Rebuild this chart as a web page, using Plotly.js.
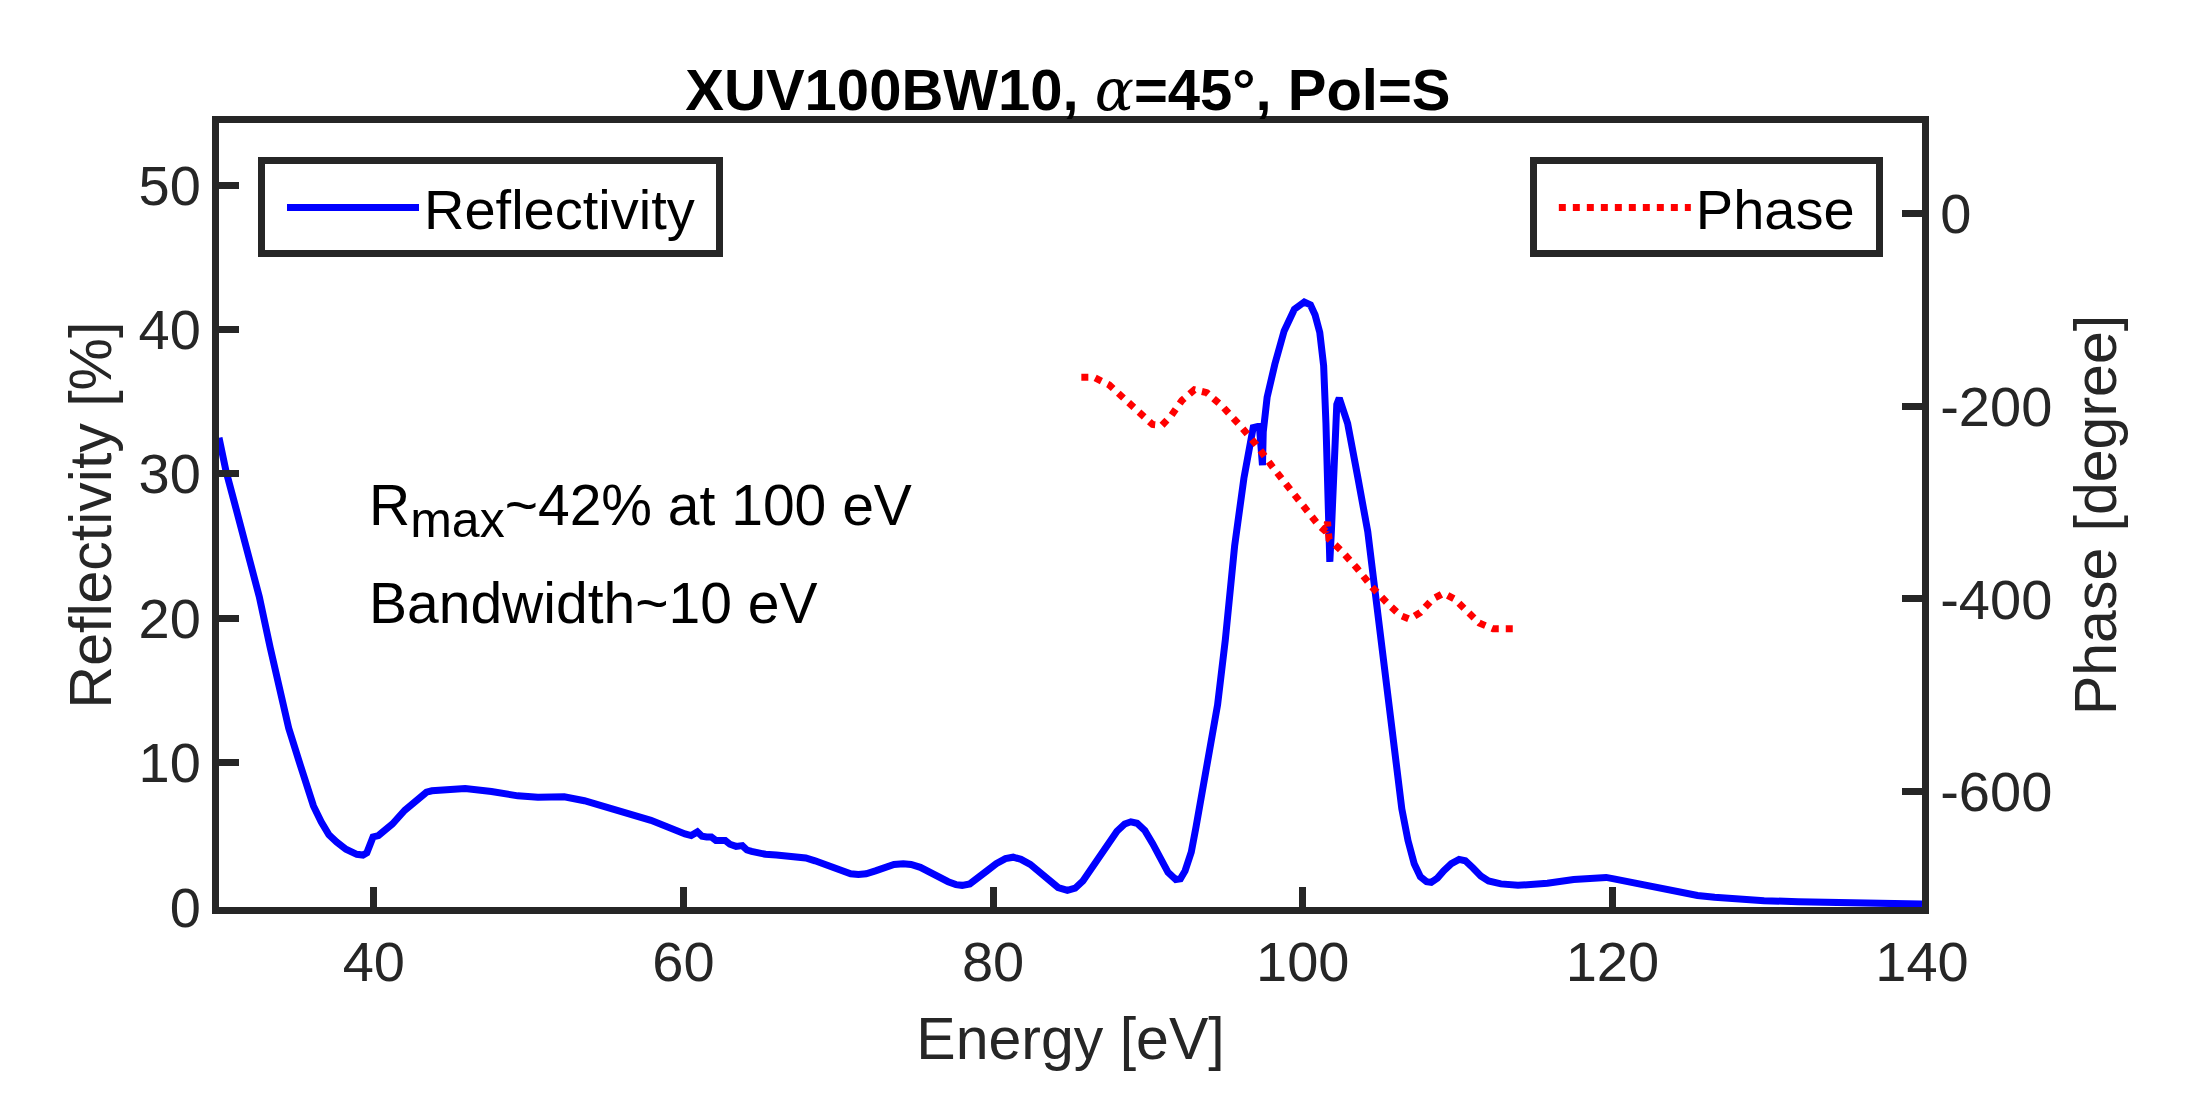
<!DOCTYPE html>
<html>
<head>
<meta charset="utf-8">
<script src="https://cdn.plot.ly/plotly-3.0.1.min.js"></script>
<style>
html, body { margin: 0; padding: 0; background: #ffffff; }
#chart { width: 2187px; height: 1094px; }
</style>
</head>
<body>
<div id="chart"></div>
<script>
// ---- data ----
const energyR = [30, 30.45, 31.0, 31.8, 32.6, 33.3, 33.9, 34.5, 35.2, 35.6, 36.1, 36.6, 37.1, 37.6, 38.2, 38.9, 39.3, 39.55, 39.75, 39.95, 40.3,
  41.2, 42.0, 42.9, 43.4, 43.75, 44.8, 45.9, 47.6, 49.3, 50.6, 52.3, 53.6, 55.8, 57.9, 60.1, 60.5, 60.9, 61.2, 61.5, 61.8, 62.1, 62.4, 62.7,
  63.0, 63.4, 63.8, 64.1, 64.4, 64.8, 65.3, 66.0, 67.0, 67.9, 68.5, 69.0, 69.6, 70.2, 70.8, 71.3, 71.8, 72.4, 73.0, 73.6, 74.2, 74.7,
  75.3, 75.9, 76.5, 77.1, 77.6, 78.0, 78.5, 79.0, 79.6, 80.2, 80.8, 81.3, 81.8, 82.4, 83.0, 83.6, 84.2, 84.8, 85.3, 85.8, 86.3, 86.8,
  87.4, 88.0, 88.5, 88.9, 89.3, 89.8, 90.3, 90.8, 91.3, 91.8, 92.1, 92.4, 92.8, 93.1, 93.5, 94.0, 94.5, 95.0, 95.6, 96.2, 96.8, 97.2,
  97.3, 97.4, 97.45, 97.7, 98.2, 98.8, 99.46, 100.1, 100.5, 100.8, 101.1, 101.35, 101.5, 101.6, 101.68, 101.75, 101.85, 101.95, 102.05,
  102.2, 102.36, 102.6, 102.9, 103.55, 104.2, 104.6, 105.0, 105.3, 105.9, 106.4, 106.8, 107.2, 107.6, 108.0, 108.3, 108.7, 109.1, 109.6,
  110.1, 110.5, 111.0, 111.5, 112.0, 112.8, 113.9, 115.0, 115.8, 117.5, 118.3, 119.05, 119.6, 120.1, 121.2, 122.3, 123.4, 124.4, 125.5,
  126.6, 128.0, 129.8, 132.0, 134.1, 137.0, 140.0];
const reflectivity = [32.5, 30.2, 28.0, 24.6, 21.5, 18.0, 15.0, 12.4, 10.0, 8.8, 7.0, 5.9, 5.0, 4.5, 4.0, 3.65, 3.6, 3.75, 4.3, 4.85, 4.95,
  5.75, 6.7, 7.6, 7.95, 8.05, 8.15, 8.2, 8.0, 7.7, 7.6, 7.63, 7.36, 6.67, 6.0, 5.06, 4.95, 5.2, 4.9, 4.85, 4.85, 4.6, 4.55, 4.6,
  4.35, 4.2, 4.25, 3.95, 3.85, 3.75, 3.65, 3.6, 3.55, 3.4, 3.2, 3.0, 2.7, 2.45, 2.3, 2.25, 2.3, 2.5, 2.75, 2.95, 3.0, 2.95,
  2.75, 2.4, 2.05, 1.75, 1.55, 1.5, 1.6, 1.95, 2.5, 3.0, 3.35, 3.45, 3.3, 2.95, 2.4, 1.8, 1.35, 1.15, 1.3, 1.8, 2.6, 3.45,
  4.4, 5.25, 5.75, 5.9, 5.8, 5.3, 4.4, 3.3, 2.4, 1.9, 1.95, 2.5, 3.8, 5.5, 8.0, 10.8, 14.0, 18.5, 25.0, 29.7, 33.2, 33.3,
  30.6, 30.6, 32.9, 35.3, 37.6, 39.9, 41.4, 41.9, 41.7, 41.0, 39.8, 37.5, 33.5, 28.5, 24.5, 23.9, 26.0, 29.0, 33.0,
  34.8, 35.25, 34.6, 33.5, 29.8, 26.0, 22.5, 18.8, 16.0, 10.5, 6.8, 4.6, 3.0, 2.1, 1.75, 1.7, 2.0, 2.5, 3.0,
  3.3, 3.2, 2.7, 2.15, 1.8, 1.6, 1.5, 1.55, 1.65, 1.9, 2.0, 2.1, 2.05, 1.95, 1.7, 1.45, 1.2, 0.95, 0.8,
  0.67, 0.55, 0.44, 0.36, 0.3, 0.25, 0.2];

const energyP = [85.7, 86.5, 87.5, 88.5, 89.5, 90.3, 90.9, 91.5, 92.2, 93.0, 93.8, 94.8, 96.0, 97.0, 98.0, 99.0, 100.0, 101.0, 101.5,
  101.6, 101.7, 102.5, 103.5, 104.5, 105.5, 106.3, 106.9, 107.6, 108.4, 109.1, 109.8, 110.6, 111.4, 112.3, 113.7];
const phase = [-170, -170, -178, -192, -208, -219, -220, -210, -194, -183, -186, -200, -221, -240, -262, -283, -303, -323, -330,
  -320, -338, -350, -368, -388, -405, -417, -421, -414, -400, -394, -400, -413, -425, -431, -431];

const xTicks = [40, 60, 80, 100, 120, 140];
const yTicks = [0, 10, 20, 30, 40, 50];
const y2Ticks = [-600, -400, -200, 0];
const y2TickText = ['-600', '-400', '-200', '0'];

// ---- styling ----
const axisColor = '#262626';
const fontFam = 'Liberation Sans, Arial, Helvetica, sans-serif';

const traces = [
  {
    x: energyR, y: reflectivity, type: 'scatter', mode: 'lines', name: 'Reflectivity\u00a0',
    line: { color: '#0000ff', width: 7 }, yaxis: 'y', legend: 'legend', hoverinfo: 'skip'
  },
  {
    x: energyP, y: phase, type: 'scatter', mode: 'lines', name: 'Phase\u00a0',
    line: { color: '#ff0000', width: 7, dash: '7px,7px' }, yaxis: 'y2', legend: 'legend2', hoverinfo: 'skip'
  }
];

const commonAxis = {
  showline: true, linewidth: 7, linecolor: axisColor,
  ticks: 'inside', ticklen: 20, tickwidth: 7, tickcolor: axisColor,
  showgrid: false, zeroline: false,
  tickfont: { size: 56, color: axisColor, family: fontFam }
};

const legendCommon = {
  y: 0.956, yanchor: 'top',
  bordercolor: axisColor, borderwidth: 7, bgcolor: '#ffffff',
  font: { size: 56, color: '#000000', family: fontFam },
  itemwidth: 132, indentation: 17
};

const layout = {
  width: 2187, height: 1094,
  margin: { l: 219, r: 265, t: 123, b: 187, pad: 0 },
  paper_bgcolor: '#ffffff', plot_bgcolor: '#ffffff',
  font: { family: fontFam, color: axisColor, size: 56 },
  showlegend: true,
  title: {
    text: '<b>XUV100BW10, <span style="font-family:DejaVu Serif;font-weight:normal;font-style:italic">α</span>=45°, Pol=S</b>',
    font: { size: 58, color: '#000000', family: fontFam },
    x: 0.4985, xref: 'paper', xanchor: 'center',
    y: 0.899, yref: 'container', yanchor: 'bottom'
  },
  xaxis: Object.assign({}, commonAxis, {
    range: [30, 140], tickvals: xTicks, mirror: true,
    title: { text: 'Energy [eV]', font: { size: 59, color: axisColor }, standoff: 28 }
  }),
  yaxis: Object.assign({}, commonAxis, {
    range: [0, 54.3], tickvals: yTicks,
    title: { text: 'Reflectivity [%]', font: { size: 59, color: axisColor }, standoff: 10 }
  }),
  yaxis2: Object.assign({}, commonAxis, {
    range: [-719.5, 93.7], tickvals: y2Ticks, ticktext: y2TickText,
    overlaying: 'y', side: 'right',
    title: { text: 'Phase [degree]', font: { size: 59, color: axisColor }, standoff: 26 }
  }),
  legend: Object.assign({}, legendCommon, { x: 0.0229, xanchor: 'left' }),
  legend2: Object.assign({}, legendCommon, { x: 0.977, xanchor: 'right' }),
  annotations: [
    {
      xref: 'paper', yref: 'paper', x: 0.0869, y: 0.506, xanchor: 'left', yanchor: 'middle',
      text: 'R<sub><span style="font-size:50px">max</span></sub>~42% at 100 eV', showarrow: false,
      font: { size: 57, color: '#000000', family: fontFam }
    },
    {
      xref: 'paper', yref: 'paper', x: 0.0869, y: 0.3878, xanchor: 'left', yanchor: 'middle',
      text: 'Bandwidth~10 eV', showarrow: false,
      font: { size: 57, color: '#000000', family: fontFam }
    }
  ]
};

Plotly.newPlot('chart', traces, layout, { displayModeBar: false, staticPlot: true });
</script>
</body>
</html>
